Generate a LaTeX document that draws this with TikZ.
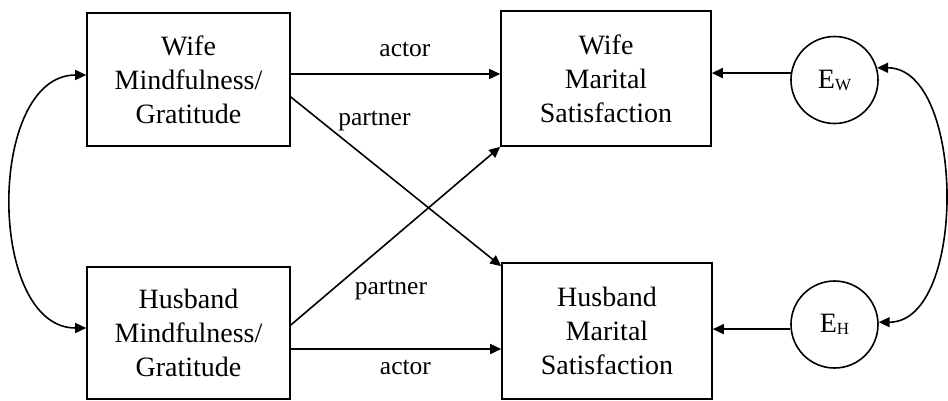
\documentclass[tikz,border=0pt]{standalone}
\usepackage{fontspec}
\setmainfont{Liberation Serif}
\usetikzlibrary{arrows.meta}

\begin{document}
\begin{tikzpicture}[x=1pt, y=-1pt, line width=1.6pt, -{Triangle[length=11pt,width=10pt]},
        every node/.append style={font=\fontsize{28}{34}\selectfont, align=center}]
      \tikzstyle{box} = [draw, rectangle, inner sep=0pt, minimum width=203pt, minimum height=133pt]
      \tikzstyle{err} = [draw, circle, inner sep=0pt, minimum size=87pt]
      \tikzstyle{path label} = [font=\fontsize{25.5}{30}\selectfont, inner sep=0pt]
      \useasboundingbox (0,0) rectangle (948,400);
      \node (WifeMG) [box] at (188.5,79.5) {Wife\\Mindfulness/\\Gratitude};
      \node (HusbandMG) [box, minimum height=132pt] at (188.5,333) {Husband\\Mindfulness/\\Gratitude};
      \node (WifeMS) [box, minimum width=210pt, minimum height=135pt] at (606,78.5) {Wife\\Marital\\Satisfaction};
      \node (HusbandMS) [box, minimum width=210pt, minimum height=136pt] at (607,331) {Husband\\Marital\\Satisfaction};
      \node (EW) [err] at (834.5,80) {E\raisebox{-2pt}{\fontsize{17}{17}\selectfont W}};
      \node (EH) [err] at (834.5,324.5) {E\raisebox{-2pt}{\fontsize{17}{17}\selectfont H}};
      % actor and partner paths
      \draw ([yshift=5.5pt]WifeMG.east) -- ([yshift=5.5pt]WifeMG.east -| WifeMS.west)
        node[path label, pos=0.545, anchor=base, yshift=18pt] {actor};
      \draw ([yshift=-16pt]HusbandMG.east) -- ([yshift=-16pt]HusbandMG.east -| HusbandMS.west)
        node[path label, pos=0.545, anchor=base, yshift=-25pt] {actor};
      \draw ([yshift=-17.5pt]WifeMG.east) -- ([yshift=-4pt]HusbandMS.north west)
        node[path label, pos=0.222, anchor=base west, yshift=9pt] {partner};
      \draw ([yshift=8pt]HusbandMG.east) -- (WifeMS.south west)
        node[path label, pos=0.302, anchor=base west, yshift=-23.7pt] {partner};
      % errors
      \draw (EW.171) -- (EW.171 -| WifeMS.east);
      \draw (EH.186) -- (EH.186 -| HusbandMS.east);
      % covariances
      \draw[{Triangle[length=11pt,width=10pt]}-{Triangle[length=11pt,width=10pt]}]
        ([yshift=4.5pt]WifeMG.west) to[out=180, in=180, looseness=1.01] ([yshift=5pt]HusbandMG.west);
      \draw[{Triangle[length=11pt,width=10pt]}-{Triangle[length=11pt,width=10pt]}]
        (EW.16) to[out=0, in=0, looseness=0.89] (EH.3);
    \end{tikzpicture}
\end{document}
